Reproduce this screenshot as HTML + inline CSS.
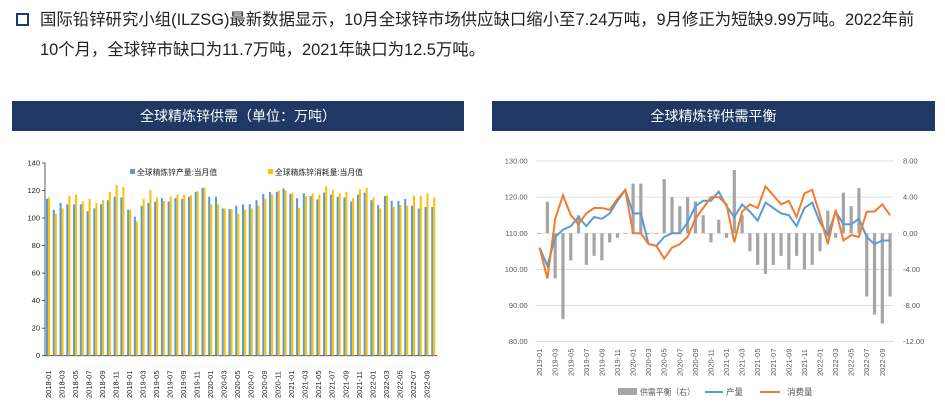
<!DOCTYPE html>
<html><head><meta charset="utf-8">
<style>
body{margin:0;width:945px;height:403px;background:#fff;overflow:hidden;font-family:"Liberation Sans","Noto Sans CJK SC",sans-serif;position:relative}
.hd{position:absolute;left:40px;top:5px;width:892px;font-size:16.4px;line-height:30px;color:#222}
.sq{position:absolute;left:16px;top:13px;width:9px;height:9px;border:2px solid #1f3a6e}
.tb{position:absolute;top:101px;height:30px;background:#1f3864;color:#fff;font-size:14px;line-height:30px;text-align:center}
svg{position:absolute;left:0;top:0}
</style></head><body>
<div class="sq"></div>
<div class="hd">国际铅锌研究小组(ILZSG)最新数据显示，10月全球锌市场供应缺口缩小至7.24万吨，9月修正为短缺9.99万吨。2022年前<br>10个月，全球锌市缺口为11.7万吨，2021年缺口为12.5万吨。</div>
<div class="tb" style="left:12px;width:452px">全球精炼锌供需（单位：万吨）</div>
<div class="tb" style="left:492px;width:443px">全球精炼锌供需平衡</div>
<svg id="s" width="945" height="403" xmlns="http://www.w3.org/2000/svg"></svg>
<script>
var P=[114,106,111,110,110,110,105,107,110,113,115.5,115, 106,101,109,111,112,114.5,112,114.5,114,115.5,119,122, 115.5,115.5,107,106.5,109,110,110,113,117.5,119,119,121.5, 117.5,114.5,118,116,113.5,118.5,117,115.5,115,112,117,118.5, 113,109.5,116,112.5,112.5,114,109,107,108,108];
var C=[115,103,107,116,117,112,114,111,113,119,124,122.5, 106,97.5,114,120.5,115,112.5,115.5,117,117,116.5,119.5,122, 110,110,107,106.5,103,106,107,109,114,117,120,120, 118,107.5,116,118,117,123,120.5,118,119,114.5,121,122, 115,107,116.5,108,109.5,109,116,116,118,115];
var s='';
function lab(i){var y=2018+Math.floor(i/12),m=i%12+1;return y+'-'+(m<10?'0':'')+m;}
var x0=45,x1=437,yt=163,yb=355.7,n=58,w=(x1-x0)/n;
function ly(v){return yb-(v/140)*(yb-yt);}
s+='<line x1="'+x0+'" y1="'+yt+'" x2="'+x0+'" y2="'+yb+'" stroke="#333" stroke-width="0.8"/>';
s+='<line x1="'+x0+'" y1="'+yb+'" x2="'+x1+'" y2="'+yb+'" stroke="#333" stroke-width="0.8"/>';
for(var v=0;v<=140;v+=20){var y=ly(v);s+='<line x1="'+(x0-3)+'" y1="'+y+'" x2="'+x0+'" y2="'+y+'" stroke="#333" stroke-width="0.8"/><text x="'+(x0-5)+'" y="'+(y+2.5)+'" font-size="7.5" text-anchor="end" fill="#222">'+v+'</text>';}
for(var i=0;i<n;i++){var bx=x0+i*w+1;
s+='<rect x="'+bx+'" y="'+ly(P[i])+'" width="'+(w*0.3)+'" height="'+(yb-ly(P[i]))+'" fill="#5b9bd5"/>';
s+='<rect x="'+(bx+w*0.3)+'" y="'+ly(C[i])+'" width="'+(w*0.3)+'" height="'+(yb-ly(C[i]))+'" fill="#ffc000"/>';
if(i%2==0){var tx=x0+i*w+w/2+2.5;s+='<text transform="translate('+tx+',398) rotate(-90)" font-size="7.5" fill="#222">'+lab(i)+'</text>';}}
s+='<rect x="130" y="169" width="5" height="5" fill="#5b9bd5"/><text x="137" y="175" font-size="7.8" fill="#222">全球精炼锌产量:当月值</text>';
s+='<rect x="268" y="169" width="5" height="5" fill="#ffc000"/><text x="275" y="175" font-size="7.8" fill="#222">全球精炼锌消耗量:当月值</text>';
var X0=535.7,X1=894,Yt=161,Yb=341.7,m=46,W=(X1-X0)/m;
function ry(v){return Yb-(v-80)/50*(Yb-Yt);}
function rr(v){return Yb-(v+12)/20*(Yb-Yt);}
for(var k=0;k<=5;k++){var v=80+k*10,y=ry(v);s+='<line x1="'+X0+'" y1="'+y+'" x2="'+X1+'" y2="'+y+'" stroke="#d9d9d9" stroke-width="0.8"/><text x="'+(X0-8)+'" y="'+(y+2.5)+'" font-size="7.5" text-anchor="end" fill="#595959">'+v.toFixed(2)+'</text>';
var r=-12+k*4;s+='<text x="903" y="'+(y+2.5)+'" font-size="7.5" fill="#595959">'+r.toFixed(2)+'</text>';}
var pp='',cp='';
for(var i=0;i<m;i++){var j=i+12,cx=X0+i*W+W/2,b=P[j]-C[j];
var y0=rr(0),y1=rr(b);s+='<rect x="'+(cx-1.6)+'" y="'+Math.min(y0,y1)+'" width="3.2" height="'+Math.max(0.8,Math.abs(y1-y0))+'" fill="#a5a5a5"/>';
pp+=(i?'L':'M')+cx.toFixed(1)+' '+ry(P[j]).toFixed(1);cp+=(i?'L':'M')+cx.toFixed(1)+' '+ry(C[j]).toFixed(1);
if(i%2==0){s+='<text transform="translate('+(cx+2.5)+',376) rotate(-90)" font-size="7.5" fill="#595959">'+lab(j)+'</text>';}}
s+='<path d="'+pp+'" fill="none" stroke="#5b9bd5" stroke-width="2"/><path d="'+cp+'" fill="none" stroke="#ed7d31" stroke-width="2"/>';
s+='<rect x="618" y="388" width="19" height="7" fill="#a5a5a5"/><text x="640" y="395" font-size="8.5" fill="#595959" textLength="55" lengthAdjust="spacingAndGlyphs">供需平衡（右）</text>';
s+='<line x1="705" y1="392" x2="723" y2="392" stroke="#5b9bd5" stroke-width="2"/><text x="726" y="395" font-size="8.5" fill="#595959">产量</text>';
s+='<line x1="760" y1="392" x2="780" y2="392" stroke="#ed7d31" stroke-width="2"/><text x="787" y="395" font-size="8.5" fill="#595959">消费量</text>';
document.getElementById('s').innerHTML=s;
</script>
</body></html>
